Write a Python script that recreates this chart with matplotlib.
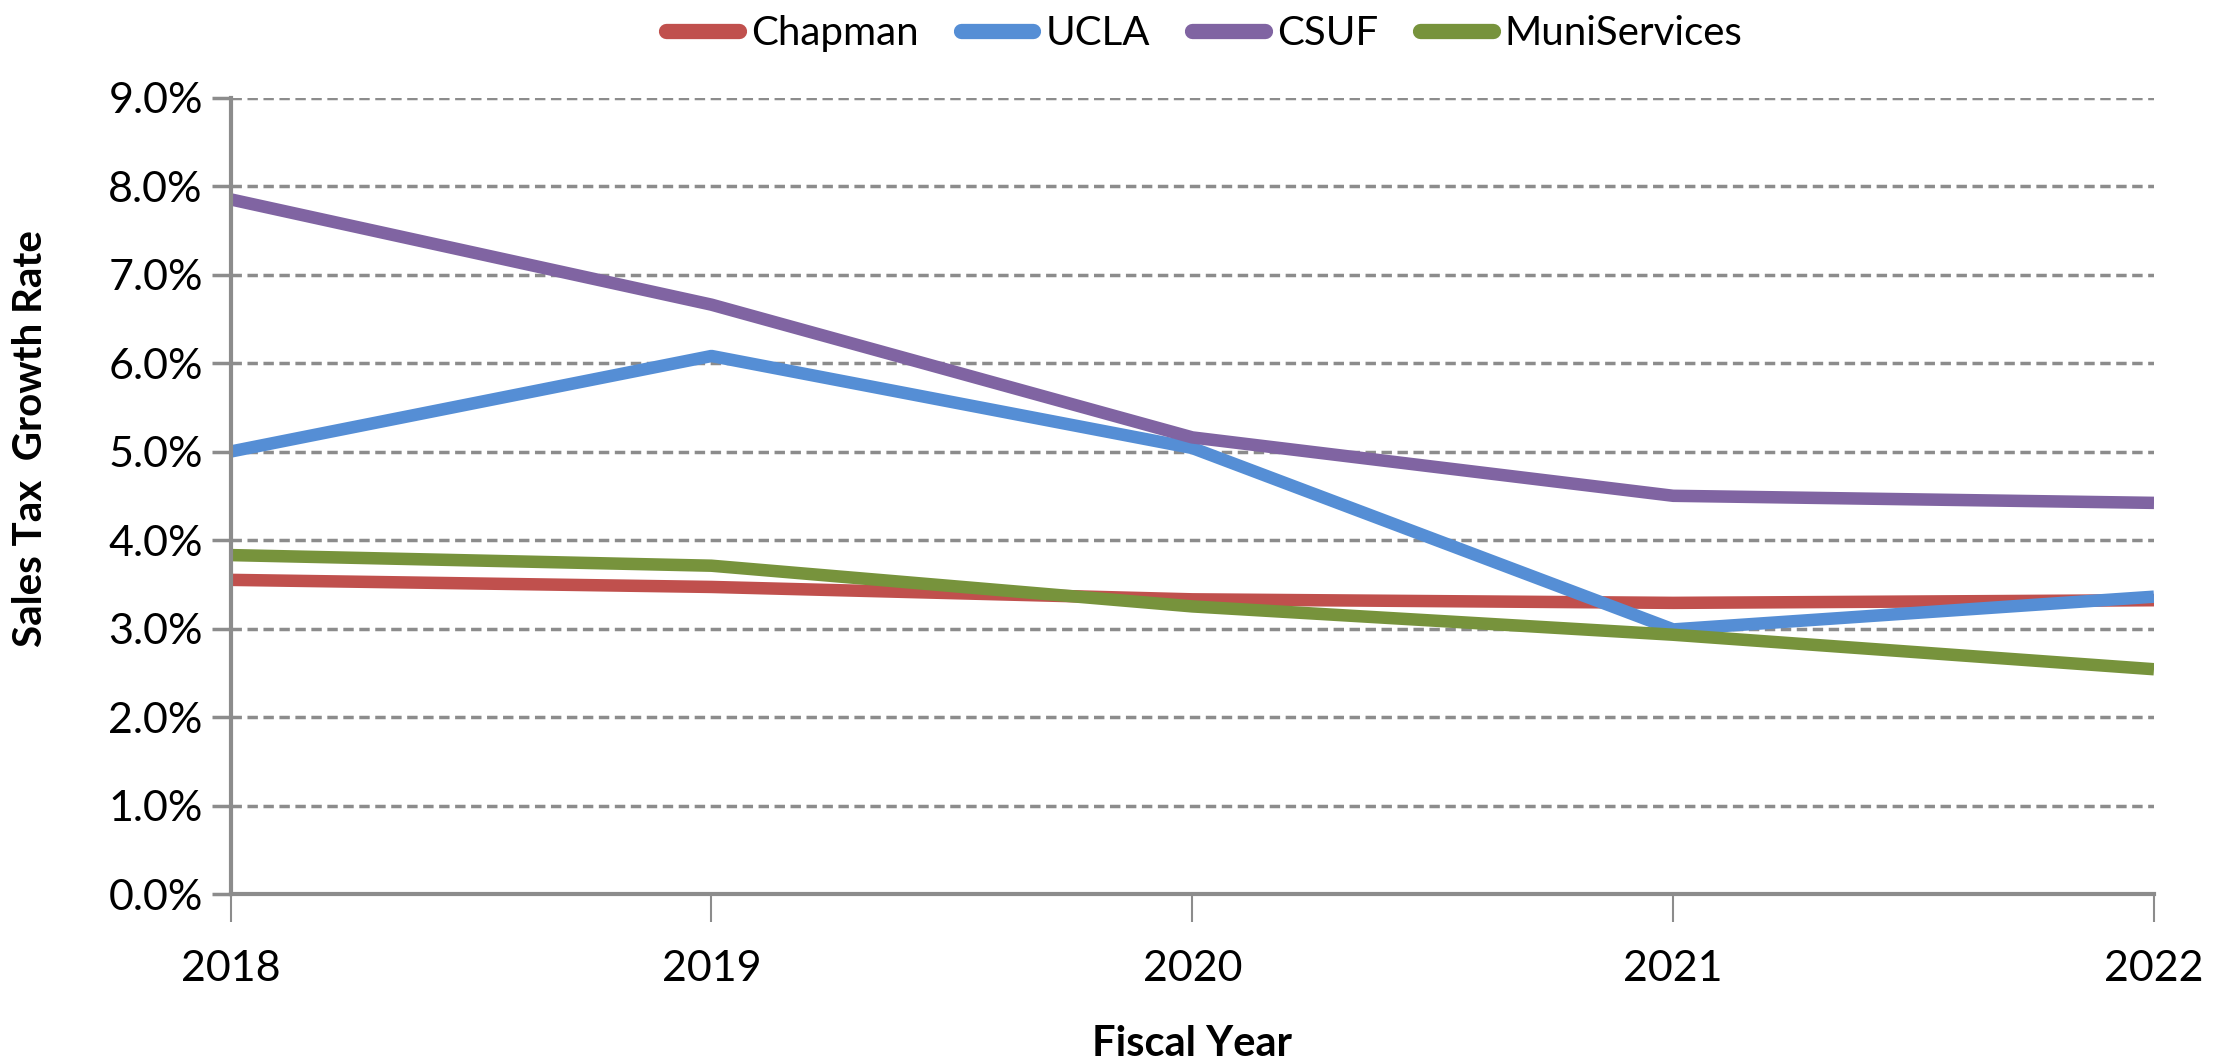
import matplotlib.pyplot as plt
from matplotlib.ticker import FuncFormatter, MultipleLocator

plt.rcParams['font.family'] = ['Lato', 'DejaVu Sans']

years = [2018, 2019, 2020, 2021, 2022]
chapman = [3.55, 3.47, 3.33, 3.29, 3.32]
ucla = [5.0, 6.08, 5.04, 2.99, 3.36]
csuf = [7.85, 6.66, 5.16, 4.50, 4.42]
muni = [3.83, 3.71, 3.25, 2.93, 2.54]

series = [('Chapman', chapman, '#C0504D'),
          ('UCLA', ucla, '#558ED5'),
          ('CSUF', csuf, '#8064A2'),
          ('MuniServices', muni, '#77933C')]

fig = plt.figure(figsize=(22.18, 10.62), dpi=100)
ax = fig.add_axes([230.6 / 2218, 1 - 894 / 1062, (2154 - 230.6) / 2218, (894 - 97.6) / 1062])

for name, vals, col in series:
    ax.plot(years, vals, color=col, lw=9, label=name,
            solid_capstyle='butt', solid_joinstyle='round')

ax.set_xlim(2018, 2022)
ax.set_ylim(0, 9)
ax.set_xticks(years)
ax.yaxis.set_major_locator(MultipleLocator(1))
ax.yaxis.set_major_formatter(FuncFormatter(lambda v, p: f'{v:.1f}%'))
ax.grid(axis='y', color='#8C8C8C', ls=(0, (3, 1.6)), lw=2.5)
ax.set_axisbelow(True)

for s in ['top', 'right']:
    ax.spines[s].set_visible(False)
for s in ['left', 'bottom']:
    ax.spines[s].set_color('#8C8C8C')
    ax.spines[s].set_linewidth(3)
ax.tick_params(axis='y', length=14, width=2.5, color='#8C8C8C', labelsize=31, pad=6)
ax.tick_params(axis='x', length=20, width=1.5, color='#8C8C8C', labelsize=31, pad=20)

ax.set_ylabel('Sales Tax  Growth Rate', fontsize=29, fontweight='bold', va='center')
ax.yaxis.set_label_coords(-0.104, 0.572)
ax.set_xlabel('Fiscal Year', fontsize=30, fontweight='bold', labelpad=27)

leg = fig.legend(loc='upper center', bbox_to_anchor=(0.543, 1.02), ncol=4, frameon=False,
                 fontsize=29, handlelength=1.8, handletextpad=0.3, columnspacing=1.05)
for h in leg.get_lines():
    h.set_solid_capstyle('round')
    h.set_linewidth(11)

fig.savefig('out.png', dpi=100)
